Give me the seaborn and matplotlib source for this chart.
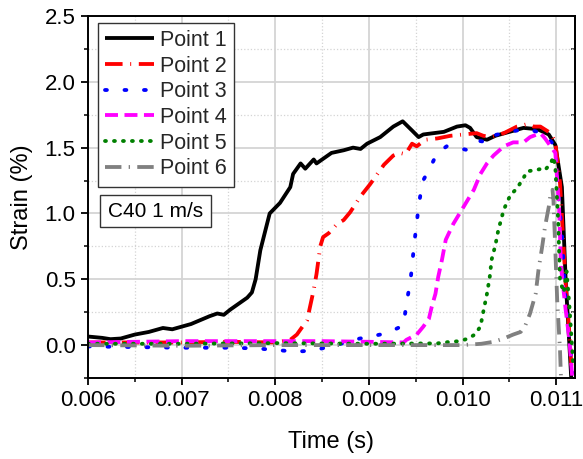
import numpy as np
import pandas as pd
import matplotlib
matplotlib.use("Agg")
import matplotlib.pyplot as plt
from matplotlib.ticker import MultipleLocator, FormatStrFormatter
from matplotlib.patches import Rectangle
import seaborn as sns

# ---------------- data ----------------
p1_t = [0.00600, 0.00615, 0.00624, 0.00635, 0.00650, 0.00665, 0.00680, 0.00690, 0.00700, 0.00710,
        0.00720, 0.00730, 0.00738, 0.00745, 0.00752, 0.00762, 0.00770, 0.00775, 0.00779, 0.00784,
        0.00794, 0.00805, 0.00816, 0.00819, 0.00827, 0.00832, 0.00841, 0.00844, 0.00860, 0.00873,
        0.00883, 0.00891, 0.00898, 0.00912, 0.00926, 0.00936, 0.00946, 0.00953, 0.00958, 0.00969,
        0.00980, 0.00994, 0.01003, 0.01008, 0.01015, 0.01026, 0.01035, 0.01050, 0.01065, 0.01080,
        0.01092, 0.01099, 0.01106, 0.01110, 0.01116]
p1_s = [0.065, 0.055, 0.045, 0.05, 0.08, 0.10, 0.13, 0.12, 0.14, 0.16,
        0.19, 0.22, 0.24, 0.23, 0.27, 0.32, 0.36, 0.40, 0.50, 0.72,
        1.00, 1.08, 1.20, 1.30, 1.38, 1.34, 1.41, 1.38, 1.46, 1.48,
        1.50, 1.49, 1.53, 1.58, 1.66, 1.70, 1.63, 1.58, 1.60, 1.61,
        1.62, 1.66, 1.67, 1.65, 1.58, 1.56, 1.59, 1.62, 1.65, 1.64,
        1.60, 1.52, 1.20, 0.50, -0.25]

p2_t = [0.00600, 0.00650, 0.00700, 0.00750, 0.00800, 0.00816, 0.00823, 0.00834, 0.00841, 0.00844,
        0.00848, 0.00851, 0.00857, 0.00866, 0.00873, 0.00880, 0.00891, 0.00901, 0.00908, 0.00916,
        0.00926, 0.00933, 0.00939, 0.00946, 0.00951, 0.00960, 0.00973, 0.00987, 0.01001, 0.01015,
        0.01022, 0.01030, 0.01044, 0.01058, 0.01070, 0.01076, 0.01083, 0.01094, 0.01099, 0.01104,
        0.01110, 0.01114, 0.01117]
p2_s = [0.02, 0.02, 0.02, 0.025, 0.02, 0.04, 0.08, 0.19, 0.42, 0.54,
        0.75, 0.82, 0.85, 0.92, 0.95, 1.01, 1.13, 1.22, 1.29, 1.37,
        1.44, 1.46, 1.45, 1.53, 1.51, 1.56, 1.57, 1.59, 1.60, 1.61,
        1.59, 1.58, 1.61, 1.66, 1.68, 1.66, 1.66, 1.61, 1.54, 1.23,
        0.47, 0.09, -0.25]

p3_t = [0.00600, 0.00650, 0.00700, 0.00750, 0.00780, 0.00805, 0.00823, 0.00841, 0.00859, 0.00870,
        0.00883, 0.00898, 0.00912, 0.00928, 0.00937, 0.00940, 0.00944, 0.00946, 0.00948, 0.00950,
        0.00953, 0.00957, 0.00964, 0.00973, 0.00983, 0.00994, 0.01006, 0.01012, 0.01019, 0.01026,
        0.01031, 0.01044, 0.01058, 0.01069, 0.01080, 0.01090, 0.01099, 0.01101, 0.01106, 0.01110,
        0.01115, 0.01117]
p3_s = [-0.01, -0.015, -0.02, -0.02, -0.025, -0.04, -0.05, -0.04, -0.01, 0.01,
        0.04, 0.06, 0.08, 0.12, 0.15, 0.32, 0.47, 0.60, 0.75, 0.87,
        1.05, 1.24, 1.33, 1.46, 1.51, 1.50, 1.48, 1.51, 1.55, 1.54,
        1.59, 1.61, 1.63, 1.64, 1.62, 1.58, 1.51, 1.23, 0.85, 0.34,
        -0.01, -0.21]

p4_t = [0.00600, 0.00650, 0.00700, 0.00750, 0.00800, 0.00850, 0.00900, 0.00937, 0.00940, 0.00951,
        0.00958, 0.00964, 0.00967, 0.00971, 0.00974, 0.00978, 0.00982, 0.00990, 0.01001, 0.01012,
        0.01019, 0.01026, 0.01033, 0.01044, 0.01054, 0.01065, 0.01072, 0.01083, 0.01088, 0.01094,
        0.01099, 0.01103, 0.01105, 0.01110, 0.01114, 0.01117]
p4_s = [0.02, 0.025, 0.03, 0.03, 0.03, 0.03, 0.025, 0.02, 0.04, 0.08,
        0.14, 0.20, 0.29, 0.39, 0.52, 0.65, 0.80, 0.92, 1.05, 1.18,
        1.30, 1.38, 1.44, 1.51, 1.54, 1.54, 1.58, 1.61, 1.57, 1.51,
        1.46, 1.05, 0.60, 0.27, 0.04, -0.24]

p5_t = [0.00600, 0.00700, 0.00800, 0.00900, 0.00973, 0.00987, 0.00997, 0.01006, 0.01013, 0.01019,
        0.01022, 0.01026, 0.01029, 0.01031, 0.01035, 0.01038, 0.01044, 0.01051, 0.01058, 0.01065,
        0.01069, 0.01078, 0.01085, 0.01088, 0.01094, 0.01097, 0.01099, 0.01102, 0.01104, 0.01108,
        0.01111, 0.01114, 0.01118]
p5_s = [0.01, 0.01, 0.015, 0.01, 0.013, 0.025, 0.03, 0.05, 0.08, 0.14,
        0.25, 0.39, 0.52, 0.65, 0.76, 0.87, 1.03, 1.14, 1.19, 1.27,
        1.32, 1.33, 1.34, 1.33, 1.38, 1.43, 1.35, 0.95, 0.49, 0.40,
        0.56, 0.30, -0.14]

p6_t = [0.00600, 0.00700, 0.00800, 0.00900, 0.01000, 0.01020, 0.01033, 0.01044, 0.01054, 0.01062,
        0.01067, 0.01072, 0.01078, 0.01081, 0.01085, 0.01088, 0.01092, 0.01094, 0.01096, 0.01097,
        0.01099, 0.01101, 0.01104, 0.01105]
p6_s = [0.00, -0.005, 0.00, 0.00, 0.00, 0.01, 0.025, 0.05, 0.08, 0.10,
        0.15, 0.24, 0.39, 0.57, 0.75, 0.90, 1.05, 1.15, 1.18, 1.10,
        0.72, 0.34, -0.04, -0.24]

labels = ["Point 1", "Point 2", "Point 3", "Point 4", "Point 5", "Point 6"]
times = [p1_t, p2_t, p3_t, p4_t, p5_t, p6_t]
strains = [p1_s, p2_s, p3_s, p4_s, p5_s, p6_s]

colors = ["#000000", "#FF0000", "#0000FF", "#FF00FF", "#008000", "#808080"]
styles = ["-", (0, (4.6, 2.0, 0.25, 2.0)), (0, (0.5, 4.6)), (0, (3.4, 1.7)),
          (0, (0.25, 2.1)), (0, (4.3, 1.9, 0.35, 1.9))]
caps = ["projecting", "butt", "round", "butt", "round", "butt"]

# ---------------- plot ----------------
sns.set_theme(style="ticks")
plt.rcParams["font.family"] = ["Liberation Sans", "DejaVu Sans"]

fig = plt.figure(figsize=(5.83, 4.59), dpi=100)
ax = fig.add_axes([88 / 583, 1 - 378 / 459, 487 / 583, 362 / 459])

for lab, t, s, c, ls, cap in zip(labels, times, strains, colors, styles, caps):
    df = pd.DataFrame({"Time": t, "Strain": s})
    sns.lineplot(data=df, x="Time", y="Strain", ax=ax, color=c, label=lab,
                 estimator=None, sort=False, linewidth=2.75)
    ln = ax.lines[-1]
    ln.set_linestyle(ls)
    ln.set_dash_capstyle(cap)
    ln.set_solid_capstyle("butt")

ax.set_xlim(0.006, 0.0112)
ax.set_ylim(-0.25, 2.5)
ax.xaxis.set_major_locator(MultipleLocator(0.001))
ax.xaxis.set_minor_locator(MultipleLocator(0.0005))
ax.yaxis.set_major_locator(MultipleLocator(0.5))
ax.yaxis.set_minor_locator(MultipleLocator(0.25))
ax.xaxis.set_major_formatter(FormatStrFormatter("%.3f"))
ax.yaxis.set_major_formatter(FormatStrFormatter("%.1f"))

ax.set_axisbelow(True)
ax.grid(which="major", color="#d4d4d4", lw=1.3, ls="-")
ax.grid(which="minor", color="#d4d4d4", lw=0.9, ls=":")

for sp in ax.spines.values():
    sp.set_visible(True)
    sp.set_linewidth(1.4)
    sp.set_color("black")

ax.tick_params(which="major", direction="out", length=5, width=1.3, labelsize=16,
               color="black", labelcolor="black", pad=4)
ax.tick_params(which="minor", direction="out", length=3, width=1.1, color="black")

sec = ax.secondary_yaxis("right")
sec.yaxis.set_major_locator(MultipleLocator(0.5))
sec.yaxis.set_minor_locator(MultipleLocator(0.25))
sec.tick_params(which="both", direction="in", length=3, width=1.1, labelright=False)
sec.spines["right"].set_linewidth(1.4)

ax.set_xlabel("Time (s)", fontsize=17, labelpad=14, color="black")
ax.set_ylabel("Strain (%)", fontsize=17, labelpad=8, color="black")

leg = ax.legend(loc="upper left", bbox_to_anchor=(0.02, 0.9815), borderaxespad=0,
                fontsize=15.5, handlelength=2.3, handletextpad=0.25,
                labelspacing=0.22, borderpad=0.33, fancybox=False, framealpha=1,
                edgecolor="#333333")
leg.get_frame().set_linewidth(1.0)

ax.add_patch(Rectangle((0.0246, 0.4171), 0.228, 0.0884, transform=ax.transAxes,
                       facecolor="white", edgecolor="#333333", lw=1.0, zorder=5))
ax.text(0.1386, 0.461, "C40 1 m/s", transform=ax.transAxes, ha="center", va="center",
        fontsize=15, color="black", zorder=6)

fig.savefig("out.png", dpi=100)
